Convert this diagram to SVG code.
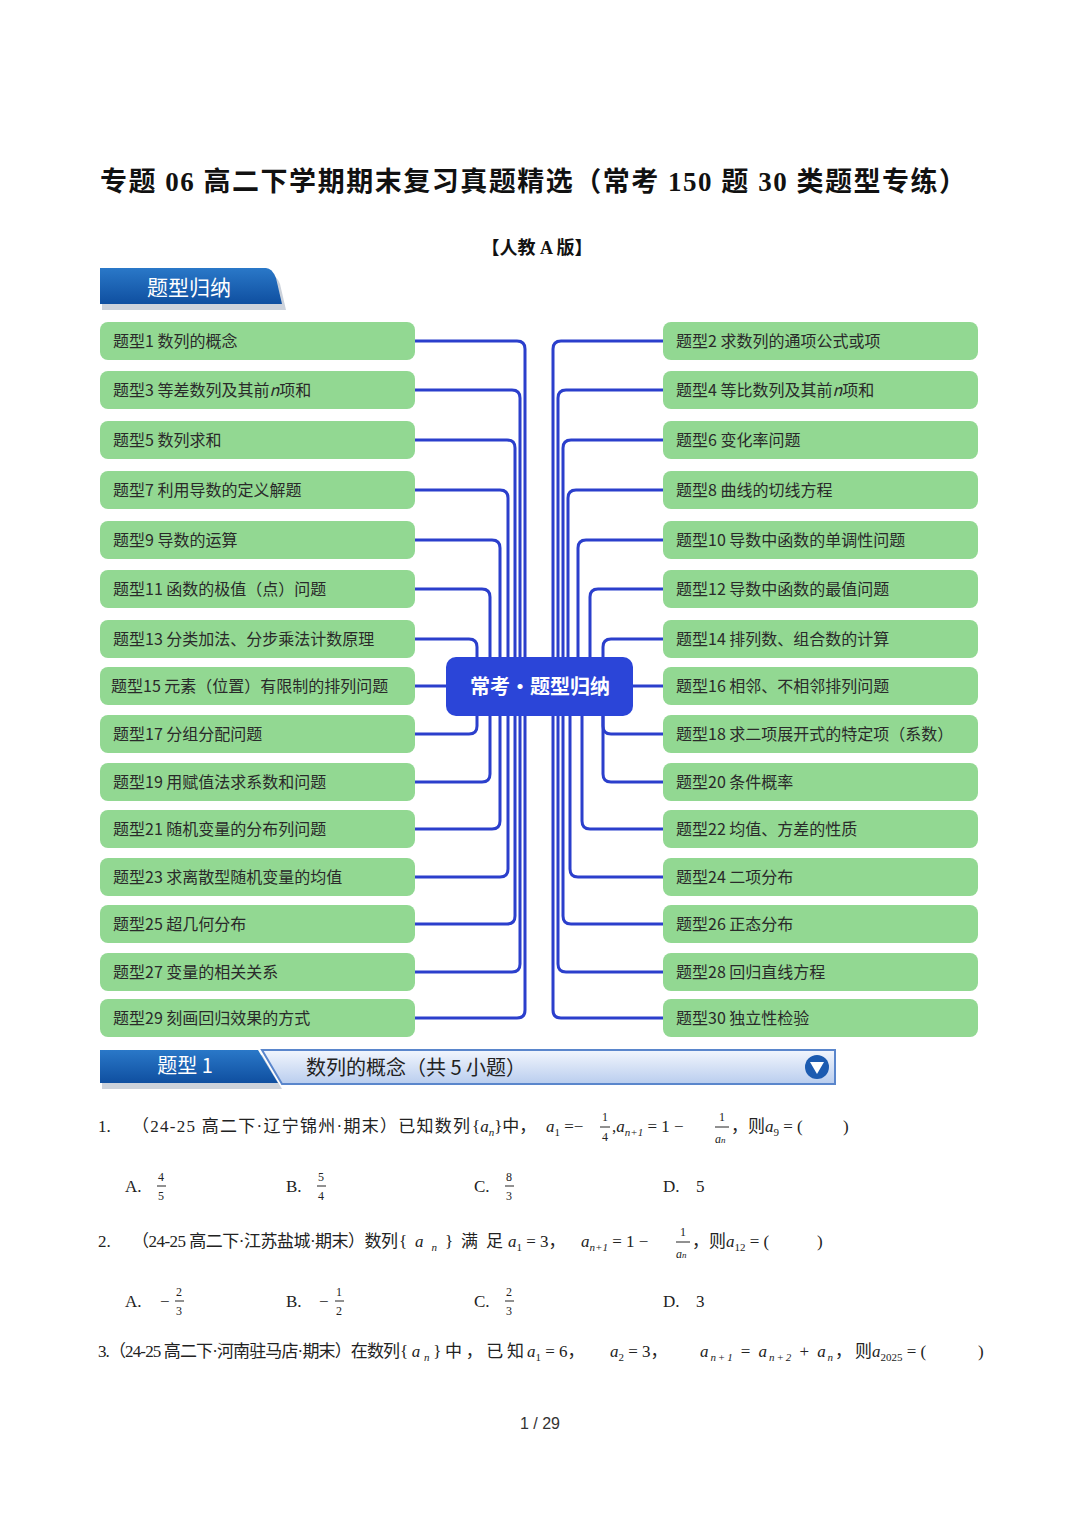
<svg xmlns="http://www.w3.org/2000/svg" width="1080" height="1527" viewBox="0 0 1080 1527">
<style>
.bx{fill:#92d892;}
.bt{font-family:"Noto Sans CJK SC","Liberation Sans",sans-serif;font-size:16px;fill:#2a2a2a;}
.cn path{fill:none;stroke:#2b3fcc;stroke-width:3;}
.q{font-family:"Liberation Serif","Noto Sans CJK SC",serif;font-size:17px;fill:#222;}
.m{font-family:"Liberation Serif",serif;font-style:italic;}
.s{font-size:11px;}
.f{font-size:12px;}
.fl{stroke:#222;stroke-width:1;}
</style>
<defs>
<linearGradient id="tab" x1="0" y1="0" x2="0" y2="1"><stop offset="0" stop-color="#2a78c8"/><stop offset="1" stop-color="#0f4fa0"/></linearGradient>
<linearGradient id="bar" x1="0" y1="0" x2="0" y2="1"><stop offset="0" stop-color="#f2f6fd"/><stop offset="1" stop-color="#b9cdee"/></linearGradient>
</defs>
<rect width="1080" height="1527" fill="#fff"/>
<text x="100" y="191" textLength="866" lengthAdjust="spacing" font-family="Liberation Serif,'Noto Sans CJK SC',serif" font-weight="bold" font-size="27" fill="#111">专题 06  高二下学期期末复习真题精选（常考 150 题 30 类题型专练）</text>
<text x="537" y="254" text-anchor="middle" font-family="Liberation Serif,'Noto Sans CJK SC',serif" font-weight="bold" font-size="18" fill="#111">【人教 A 版】</text>
<g id="hdr1">
<path d="M102,274 H268 Q276,274 280,284 L286,310 H102 Z" fill="#9aa6b8" opacity="0.5"/>
<path d="M100,268 H266 Q272,268 276,278 L282,304 H100 Z" fill="url(#tab)"/>
<text x="189" y="295" text-anchor="middle" font-family="'Noto Sans CJK SC',sans-serif" font-size="21" fill="#fff">题型归纳</text>
</g>
<g class="cn" id="connectors">
<path d="M415,341 H517 Q525,341 525,349 V657"/>
<path d="M415,390 H512 Q520,390 520,398 V657"/>
<path d="M415,440 H507 Q515,440 515,448 V657"/>
<path d="M415,490 H500 Q508,490 508,498 V657"/>
<path d="M415,540 H492 Q500,540 500,548 V657"/>
<path d="M415,589 H482 Q490,589 490,597 V657"/>
<path d="M415,639 H469 Q477,639 477,647 V657"/>
<path d="M415,686 H446"/>
<path d="M415,734 H469 Q477,734 477,726 V716"/>
<path d="M415,782 H482 Q490,782 490,774 V716"/>
<path d="M415,829 H492 Q500,829 500,821 V716"/>
<path d="M415,877 H500 Q508,877 508,869 V716"/>
<path d="M415,924 H507 Q515,924 515,916 V716"/>
<path d="M415,972 H512 Q520,972 520,964 V716"/>
<path d="M415,1018 H517 Q525,1018 525,1010 V716"/>
<path d="M663,341 H561 Q553,341 553,349 V657"/>
<path d="M663,390 H566 Q558,390 558,398 V657"/>
<path d="M663,440 H571 Q563,440 563,448 V657"/>
<path d="M663,490 H576 Q568,490 568,498 V657"/>
<path d="M663,540 H586 Q578,540 578,548 V657"/>
<path d="M663,589 H598 Q590,589 590,597 V657"/>
<path d="M663,639 H611 Q603,639 603,647 V657"/>
<path d="M663,686 H633"/>
<path d="M663,734 H611 Q603,734 603,726 V716"/>
<path d="M663,782 H611 Q603,782 603,774 V716"/>
<path d="M663,829 H590 Q582,829 582,821 V716"/>
<path d="M663,877 H578 Q570,877 570,869 V716"/>
<path d="M663,924 H571 Q563,924 563,916 V716"/>
<path d="M663,972 H566 Q558,972 558,964 V716"/>
<path d="M663,1018 H561 Q553,1018 553,1010 V716"/>
</g>
<g id="center"><rect x="446" y="657" width="187" height="59" rx="10" fill="#2b45d8"/><text x="540" y="694" text-anchor="middle" font-family="'Noto Sans CJK SC',sans-serif" font-weight="bold" font-size="20" fill="#fff">常考·题型归纳</text></g>
<g id="L1"><rect class="bx" x="100" y="322" width="315" height="38" rx="8"/><text class="bt" x="113" y="347">题型1 数列的概念</text></g>
<g id="L3"><rect class="bx" x="100" y="371" width="315" height="38" rx="8"/><text class="bt" x="113" y="396">题型3 等差数列及其前<tspan font-style="italic">n</tspan>项和</text></g>
<g id="L5"><rect class="bx" x="100" y="421" width="315" height="38" rx="8"/><text class="bt" x="113" y="446">题型5 数列求和</text></g>
<g id="L7"><rect class="bx" x="100" y="471" width="315" height="38" rx="8"/><text class="bt" x="113" y="496">题型7 利用导数的定义解题</text></g>
<g id="L9"><rect class="bx" x="100" y="521" width="315" height="38" rx="8"/><text class="bt" x="113" y="546">题型9 导数的运算</text></g>
<g id="L11"><rect class="bx" x="100" y="570" width="315" height="38" rx="8"/><text class="bt" x="113" y="595">题型11 函数的极值（点）问题</text></g>
<g id="L13"><rect class="bx" x="100" y="620" width="315" height="38" rx="8"/><text class="bt" x="113" y="645">题型13 分类加法、分步乘法计数原理</text></g>
<g id="L15"><rect class="bx" x="100" y="667" width="315" height="38" rx="8"/><text class="bt" x="111" y="692">题型15 元素（位置）有限制的排列问题</text></g>
<g id="L17"><rect class="bx" x="100" y="715" width="315" height="38" rx="8"/><text class="bt" x="113" y="740">题型17 分组分配问题</text></g>
<g id="L19"><rect class="bx" x="100" y="763" width="315" height="38" rx="8"/><text class="bt" x="113" y="788">题型19 用赋值法求系数和问题</text></g>
<g id="L21"><rect class="bx" x="100" y="810" width="315" height="38" rx="8"/><text class="bt" x="113" y="835">题型21 随机变量的分布列问题</text></g>
<g id="L23"><rect class="bx" x="100" y="858" width="315" height="38" rx="8"/><text class="bt" x="113" y="883">题型23 求离散型随机变量的均值</text></g>
<g id="L25"><rect class="bx" x="100" y="905" width="315" height="38" rx="8"/><text class="bt" x="113" y="930">题型25 超几何分布</text></g>
<g id="L27"><rect class="bx" x="100" y="953" width="315" height="38" rx="8"/><text class="bt" x="113" y="978">题型27 变量的相关关系</text></g>
<g id="L29"><rect class="bx" x="100" y="999" width="315" height="38" rx="8"/><text class="bt" x="113" y="1024">题型29 刻画回归效果的方式</text></g>
<g id="R2"><rect class="bx" x="663" y="322" width="315" height="38" rx="8"/><text class="bt" x="676" y="347">题型2 求数列的通项公式或项</text></g>
<g id="R4"><rect class="bx" x="663" y="371" width="315" height="38" rx="8"/><text class="bt" x="676" y="396">题型4 等比数列及其前<tspan font-style="italic">n</tspan>项和</text></g>
<g id="R6"><rect class="bx" x="663" y="421" width="315" height="38" rx="8"/><text class="bt" x="676" y="446">题型6 变化率问题</text></g>
<g id="R8"><rect class="bx" x="663" y="471" width="315" height="38" rx="8"/><text class="bt" x="676" y="496">题型8 曲线的切线方程</text></g>
<g id="R10"><rect class="bx" x="663" y="521" width="315" height="38" rx="8"/><text class="bt" x="676" y="546">题型10 导数中函数的单调性问题</text></g>
<g id="R12"><rect class="bx" x="663" y="570" width="315" height="38" rx="8"/><text class="bt" x="676" y="595">题型12 导数中函数的最值问题</text></g>
<g id="R14"><rect class="bx" x="663" y="620" width="315" height="38" rx="8"/><text class="bt" x="676" y="645">题型14 排列数、组合数的计算</text></g>
<g id="R16"><rect class="bx" x="663" y="667" width="315" height="38" rx="8"/><text class="bt" x="676" y="692">题型16 相邻、不相邻排列问题</text></g>
<g id="R18"><rect class="bx" x="663" y="715" width="315" height="38" rx="8"/><text class="bt" x="676" y="740">题型18 求二项展开式的特定项（系数）</text></g>
<g id="R20"><rect class="bx" x="663" y="763" width="315" height="38" rx="8"/><text class="bt" x="676" y="788">题型20 条件概率</text></g>
<g id="R22"><rect class="bx" x="663" y="810" width="315" height="38" rx="8"/><text class="bt" x="676" y="835">题型22 均值、方差的性质</text></g>
<g id="R24"><rect class="bx" x="663" y="858" width="315" height="38" rx="8"/><text class="bt" x="676" y="883">题型24 二项分布</text></g>
<g id="R26"><rect class="bx" x="663" y="905" width="315" height="38" rx="8"/><text class="bt" x="676" y="930">题型26 正态分布</text></g>
<g id="R28"><rect class="bx" x="663" y="953" width="315" height="38" rx="8"/><text class="bt" x="676" y="978">题型28 回归直线方程</text></g>
<g id="R30"><rect class="bx" x="663" y="999" width="315" height="38" rx="8"/><text class="bt" x="676" y="1024">题型30 独立性检验</text></g>
<g id="hdr2">
<path d="M262,1050 H835 V1084 H282 Z" fill="url(#bar)" stroke="#5a86cc" stroke-width="2"/>
<path d="M102,1055 H262 L282,1089 H102 Z" fill="#9aa6b8" opacity="0.5"/>
<path d="M100,1050 H258 L278,1083 H100 Z" fill="url(#tab)"/>
<text x="185" y="1073" text-anchor="middle" font-family="'Noto Sans CJK SC',sans-serif" font-size="20" fill="#fff">题型 1</text>
<text x="306" y="1075" font-family="'Noto Sans CJK SC',sans-serif" font-size="20" fill="#222">数列的概念（共 5 小题）</text>
<circle cx="817" cy="1067" r="12" fill="#1c5bb0"/><path d="M810,1062 H824 L817,1074 Z" fill="#fff"/>
</g>
<g id="questions" class="q">
<text x="98" y="1132">1.</text>
<text x="132" y="1132" textLength="338" lengthAdjust="spacing">（24-25 高二下·辽宁锦州·期末）已知数列</text>
<text x="472" y="1132">{<tspan class="m">a</tspan><tspan class="m s" dy="4">n</tspan><tspan dy="-4">}中，</tspan></text>
<text x="546" y="1132"><tspan class="m">a</tspan><tspan class="s" dy="4">1</tspan><tspan dy="-4"> =−</tspan></text>
<text x="602" y="1121" class="f">1</text><line x1="600" y1="1127" x2="610" y2="1127" class="fl"/><text x="602" y="1141" class="f">4</text>
<text x="612" y="1132">,<tspan class="m">a</tspan><tspan class="m s" dy="4">n+1</tspan><tspan dy="-4"> = 1 −</tspan></text>
<text x="719" y="1121" class="f">1</text><line x1="715" y1="1127" x2="729" y2="1127" class="fl"/><text x="715" y="1143" class="m f">a<tspan font-size="9">n</tspan></text>
<text x="731" y="1132">，则<tspan class="m">a</tspan><tspan class="s" dy="4">9</tspan><tspan dy="-4"> = (</tspan></text><text x="843" y="1132">)</text>
<text x="125" y="1192">A.</text><text x="158" y="1181" class="f">4</text><line x1="157" y1="1186" x2="166" y2="1186" class="fl"/><text x="158" y="1200" class="f">5</text>
<text x="286" y="1192">B.</text><text x="318" y="1181" class="f">5</text><line x1="317" y1="1186" x2="326" y2="1186" class="fl"/><text x="318" y="1200" class="f">4</text>
<text x="474" y="1192">C.</text><text x="506" y="1181" class="f">8</text><line x1="505" y1="1186" x2="514" y2="1186" class="fl"/><text x="506" y="1200" class="f">3</text>
<text x="663" y="1192">D.</text><text x="696" y="1192">5</text>
<text x="98" y="1247">2.</text>
<text x="132" y="1247" textLength="266" lengthAdjust="spacing">（24-25 高二下·江苏盐城·期末）数列</text>
<text x="399" y="1247" textLength="104" lengthAdjust="spacing">{<tspan class="m">a</tspan><tspan class="m s" dy="4">n</tspan><tspan dy="-4">}满足</tspan></text>
<text x="508" y="1247"><tspan class="m">a</tspan><tspan class="s" dy="4">1</tspan><tspan dy="-4"> = 3，</tspan></text>
<text x="581" y="1247"><tspan class="m">a</tspan><tspan class="m s" dy="4">n+1</tspan><tspan dy="-4"> = 1 −</tspan></text>
<text x="680" y="1236" class="f">1</text><line x1="676" y1="1242" x2="690" y2="1242" class="fl"/><text x="676" y="1258" class="m f">a<tspan font-size="9">n</tspan></text>
<text x="692" y="1247">，则<tspan class="m">a</tspan><tspan class="s" dy="4">12</tspan><tspan dy="-4"> = (</tspan></text><text x="817" y="1247">)</text>
<text x="125" y="1307">A.</text><text x="160" y="1307">−</text><text x="176" y="1296" class="f">2</text><line x1="175" y1="1301" x2="184" y2="1301" class="fl"/><text x="176" y="1315" class="f">3</text>
<text x="286" y="1307">B.</text><text x="319" y="1307">−</text><text x="336" y="1296" class="f">1</text><line x1="335" y1="1301" x2="344" y2="1301" class="fl"/><text x="336" y="1315" class="f">2</text>
<text x="474" y="1307">C.</text><text x="506" y="1296" class="f">2</text><line x1="505" y1="1301" x2="514" y2="1301" class="fl"/><text x="506" y="1315" class="f">3</text>
<text x="663" y="1307">D.</text><text x="696" y="1307">3</text>
<text x="98" y="1357" textLength="302" lengthAdjust="spacing">3.（24-25 高二下·河南驻马店·期末）在数列</text>
<text x="400" y="1357" textLength="124" lengthAdjust="spacing">{<tspan class="m">a</tspan><tspan class="m s" dy="4">n</tspan><tspan dy="-4">}中，已知</tspan></text>
<text x="527" y="1357"><tspan class="m">a</tspan><tspan class="s" dy="4">1</tspan><tspan dy="-4"> = 6，</tspan></text>
<text x="610" y="1357"><tspan class="m">a</tspan><tspan class="s" dy="4">2</tspan><tspan dy="-4"> = 3，</tspan></text>
<text x="700" y="1357" textLength="152" lengthAdjust="spacing"><tspan class="m">a</tspan><tspan class="m s" dy="4">n+1</tspan><tspan dy="-4"> = </tspan><tspan class="m">a</tspan><tspan class="m s" dy="4">n+2</tspan><tspan dy="-4"> + </tspan><tspan class="m">a</tspan><tspan class="m s" dy="4">n</tspan><tspan dy="-4">，</tspan></text>
<text x="855" y="1357">则<tspan class="m">a</tspan><tspan class="s" dy="4">2025</tspan><tspan dy="-4"> = (</tspan></text><text x="978" y="1357">)</text>
</g>
<text x="540" y="1429" text-anchor="middle" font-family="'Liberation Sans',sans-serif" font-size="16" fill="#333">1 / 29</text>
</svg>
